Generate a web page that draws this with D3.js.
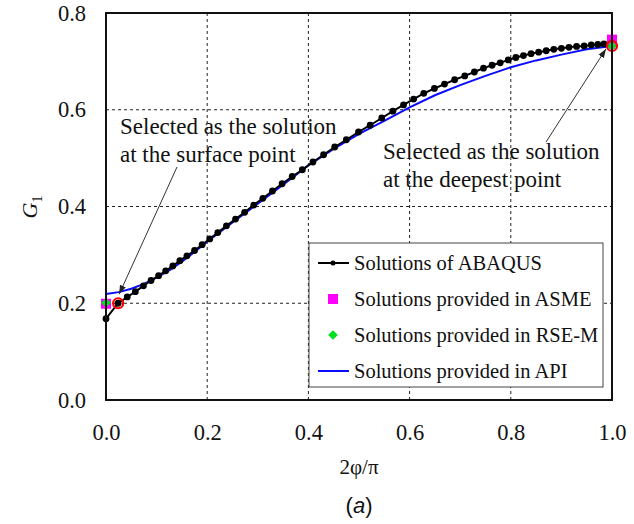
<!DOCTYPE html>
<html>
<head>
<meta charset="utf-8">
<script src="https://cdn.jsdelivr.net/npm/d3@7"></script>
<style>
  body { margin: 0; background: #fff; }
  svg { display: block; }
  text { font-family: "Liberation Serif", "Times New Roman", serif; fill: #111; }
</style>
</head>
<body>
<svg id="chart" width="634" height="524"></svg>
<script>
// G1 along the crack front, 2φ/π from surface (0) to deepest point (1)
const abaqusX = [0.000, 0.024, 0.042, 0.058, 0.074, 0.089, 0.104, 0.118, 0.132, 0.146,
  0.160, 0.175, 0.190, 0.205, 0.221, 0.238, 0.256, 0.274, 0.292, 0.310,
  0.329, 0.348, 0.368, 0.388, 0.409, 0.430, 0.452, 0.475, 0.499, 0.522,
  0.545, 0.567, 0.588, 0.608, 0.628, 0.649, 0.669, 0.689, 0.709, 0.728,
  0.746, 0.763, 0.779, 0.795, 0.810, 0.825, 0.840, 0.855, 0.870, 0.885,
  0.900, 0.915, 0.930, 0.945, 0.959, 0.972, 0.984, 1.000];
const abaqusG = [0.168, 0.200, 0.213, 0.224, 0.236, 0.247, 0.257, 0.267, 0.277, 0.288,
  0.298, 0.309, 0.321, 0.333, 0.346, 0.360, 0.374, 0.388, 0.403, 0.417,
  0.432, 0.447, 0.462, 0.476, 0.492, 0.507, 0.523, 0.538, 0.554, 0.568,
  0.583, 0.597, 0.610, 0.622, 0.634, 0.644, 0.653, 0.662, 0.670, 0.678,
  0.686, 0.692, 0.697, 0.703, 0.708, 0.712, 0.716, 0.719, 0.722, 0.725,
  0.727, 0.729, 0.731, 0.732, 0.734, 0.735, 0.736, 0.732];

const apiX = [0.000, 0.025, 0.050, 0.075, 0.100, 0.125, 0.150, 0.175, 0.200, 0.250,
  0.300, 0.350, 0.400, 0.450, 0.500, 0.550, 0.600, 0.650, 0.700, 0.750,
  0.800, 0.850, 0.900, 0.950, 1.000];
const apiG = [0.219, 0.223, 0.230, 0.240, 0.253, 0.268, 0.286, 0.306, 0.327, 0.367,
  0.406, 0.445, 0.485, 0.519, 0.550, 0.577, 0.605, 0.630, 0.651, 0.670,
  0.688, 0.702, 0.714, 0.725, 0.732];

const asmeX = [0.0, 1.0];
const asmeG = [0.199, 0.745];
const rsemX = [0.0, 1.0];
const rsemG = [0.201, 0.732];

// points picked as surface / deepest solutions
const selectedX = [0.024, 1.0];
const selectedG = [0.200, 0.732];

const xTicks = [0.0, 0.2, 0.4, 0.6, 0.8, 1.0];
const yTicks = [0.0, 0.2, 0.4, 0.6, 0.8];

const legendLabels = ["Solutions of ABAQUS", "Solutions provided in ASME",
  "Solutions provided in RSE-M", "Solutions provided in API"];
const noteSurface = ["Selected as the solution", "at the surface point"];
const noteDeepest = ["Selected as the solution", "at the deepest point"];

const svg = d3.select("#chart");
const x = d3.scaleLinear().domain([0, 1]).range([106, 612]);
const y = d3.scaleLinear().domain([0, 0.8]).range([400, 13]);

// dashed grid
const grid = svg.append("g").attr("stroke", "#222").attr("stroke-width", 1)
  .attr("stroke-dasharray", "3,3");
grid.selectAll("line.v").data(xTicks.slice(1, -1)).join("line")
  .attr("x1", d => x(d)).attr("x2", d => x(d)).attr("y1", y(0)).attr("y2", y(0.8));
grid.selectAll("line.h").data(yTicks.slice(1, -1)).join("line")
  .attr("x1", x(0)).attr("x2", x(1)).attr("y1", d => y(d)).attr("y2", d => y(d));

// axes (labels only; frame drawn separately)
const xAxis = svg.append("g").attr("transform", `translate(0,${y(0)})`)
  .call(d3.axisBottom(x).tickValues(xTicks).tickFormat(d3.format(".1f")).tickSize(0).tickPadding(24));
const yAxis = svg.append("g").attr("transform", `translate(${x(0)},0)`)
  .call(d3.axisLeft(y).tickValues(yTicks).tickFormat(d3.format(".1f")).tickSize(0).tickPadding(20));
[xAxis, yAxis].forEach(a => {
  a.select(".domain").remove();
  a.selectAll("text").attr("font-family", "Liberation Serif").attr("font-size", 22.5).attr("fill", "#111");
});

// API line
const line = d3.line().x(d => x(d[0])).y(d => y(d[1]));
svg.append("path").datum(d3.zip(apiX, apiG)).attr("d", line)
  .attr("fill", "none").attr("stroke", "#0a0aff").attr("stroke-width", 2);

// ABAQUS line with dots
svg.append("path").datum(d3.zip(abaqusX, abaqusG)).attr("d", line)
  .attr("fill", "none").attr("stroke", "#000").attr("stroke-width", 2);
svg.append("g").selectAll("circle").data(d3.zip(abaqusX, abaqusG)).join("circle")
  .attr("cx", d => x(d[0])).attr("cy", d => y(d[1])).attr("r", 3.4).attr("fill", "#000");

// ASME squares
const sq = 10;
svg.append("g").selectAll("rect").data(d3.zip(asmeX, asmeG)).join("rect")
  .attr("x", d => x(d[0]) - sq / 2).attr("y", d => y(d[1]) - sq / 2)
  .attr("width", sq).attr("height", sq).attr("fill", "#ff00ff");

// RSE-M diamonds
const diamond = d3.symbol().type(d3.symbolDiamond2).size(60);
svg.append("g").selectAll("path").data(d3.zip(rsemX, rsemG)).join("path")
  .attr("transform", d => `translate(${x(d[0])},${y(d[1])})`)
  .attr("d", diamond).attr("fill", "#00e020");

// selected points: open red circles
svg.append("g").selectAll("circle").data(d3.zip(selectedX, selectedG)).join("circle")
  .attr("cx", d => x(d[0])).attr("cy", d => y(d[1])).attr("r", 5)
  .attr("fill", "none").attr("stroke", "#ff0000").attr("stroke-width", 2.2);

// frame
svg.append("rect").attr("x", x(0)).attr("y", y(0.8))
  .attr("width", x(1) - x(0)).attr("height", y(0) - y(0.8))
  .attr("fill", "none").attr("stroke", "#111").attr("stroke-width", 2);

// annotations with arrows
const defs = svg.append("defs");
defs.append("marker").attr("id", "arrow").attr("viewBox", "0 0 10 10")
  .attr("refX", 10).attr("refY", 5).attr("markerWidth", 9).attr("markerHeight", 9)
  .attr("markerUnits", "userSpaceOnUse").attr("orient", "auto")
  .append("path").attr("d", "M0,1.5 L10,5 L0,8.5 Z").attr("fill", "#222");

function note(lines, tx, ty, from, to) {
  const t = svg.append("text").attr("x", tx).attr("y", ty).attr("font-size", 23);
  lines.forEach((s, i) => t.append("tspan").attr("x", tx).attr("dy", i ? 28 : 0).text(s));
  svg.append("line").attr("x1", from[0]).attr("y1", from[1])
    .attr("x2", to[0]).attr("y2", to[1])
    .attr("stroke", "#333").attr("stroke-width", 1).attr("marker-end", "url(#arrow)");
}
note(noteSurface, 120, 134, [177, 167], [x(selectedX[0]) + 1, y(selectedG[0]) - 9]);
note(noteDeepest, 383, 159, [546, 142], [x(selectedX[1]) - 6, y(selectedG[1]) + 3]);

// legend
const lg = svg.append("g");
lg.append("rect").attr("x", 309).attr("y", 243).attr("width", 294).attr("height", 144)
  .attr("fill", "#fff").attr("stroke", "#444").attr("stroke-width", 1);
const rowY = i => 263 + i * 36;
lg.append("line").attr("x1", 318).attr("x2", 349).attr("y1", rowY(0)).attr("y2", rowY(0))
  .attr("stroke", "#000").attr("stroke-width", 2);
lg.append("circle").attr("cx", 333).attr("cy", rowY(0)).attr("r", 2.5).attr("fill", "#000");
lg.append("rect").attr("x", 333 - 5).attr("y", rowY(1) - 5).attr("width", 10).attr("height", 10)
  .attr("fill", "#ff00ff");
lg.append("path").attr("transform", `translate(333,${rowY(2)})`).attr("d", diamond).attr("fill", "#00e020");
lg.append("line").attr("x1", 318).attr("x2", 349).attr("y1", rowY(3)).attr("y2", rowY(3))
  .attr("stroke", "#0a0aff").attr("stroke-width", 2);
lg.selectAll("text").data(legendLabels).join("text")
  .attr("x", 354).attr("y", (d, i) => rowY(i)).attr("dy", "0.35em")
  .attr("font-size", 20.5).text(d => d);

// axis titles
const gl = svg.append("text").attr("transform", "translate(37,207) rotate(-90)")
  .attr("text-anchor", "middle").attr("font-size", 22);
gl.append("tspan").attr("font-style", "italic").text("G");
gl.append("tspan").attr("font-size", 14).attr("dy", 5).text("1");

svg.append("text").attr("x", 359).attr("y", 474).attr("text-anchor", "middle")
  .attr("font-size", 21).text("2φ/π");

const cap = svg.append("text").attr("x", 359).attr("y", 513).attr("text-anchor", "middle")
  .attr("font-size", 22).style("font-family", "'Liberation Sans', Arial, sans-serif");
cap.append("tspan").text("(");
cap.append("tspan").attr("font-style", "italic").text("a");
cap.append("tspan").text(")");
</script>
</body>
</html>
